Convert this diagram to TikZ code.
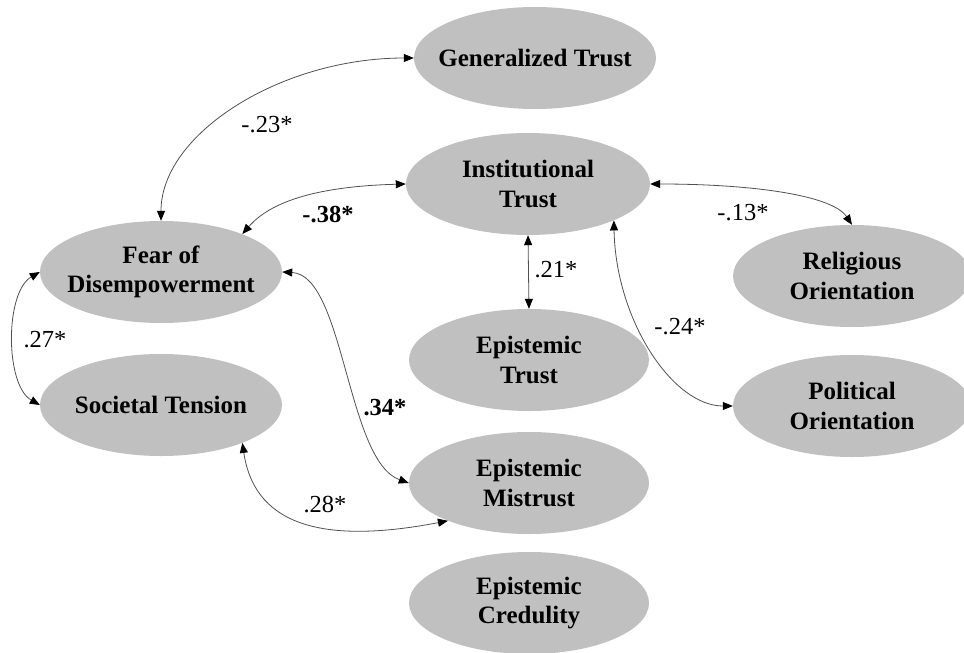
\documentclass[tikz,border=0pt]{standalone}
\usepackage{fontspec}
\setmainfont{Liberation Serif}
\usetikzlibrary{shapes.geometric,arrows.meta}
\definecolor{ovalgray}{RGB}{192,192,192}
\definecolor{linkgray}{RGB}{80,80,80}
% zero-width centred line, so the oval size is set by the style alone
\newcommand{\ovalline}[1]{\makebox[0pt][c]{#1}}
\tikzset{
  construct/.style={ellipse, fill=ovalgray, draw=none, inner sep=0pt,
    minimum width=242pt, minimum height=102pt, align=center,
    font=\fontsize{25}{29.5}\selectfont\bfseries},
  corr/.style={draw=linkgray, line width=0.8pt,
    >={Triangle[length=10pt,width=8pt,color=black]}, <->},
  coef/.style={font=\fontsize{24.5}{28}\selectfont, inner sep=0pt},
  coefb/.style={coef, font=\fontsize{24.5}{28}\selectfont\bfseries}
}
\begin{document}
\begin{tikzpicture}[x=1pt,y=-1pt]
\useasboundingbox (0,0) rectangle (964,653);
\clip (0,0) rectangle (964,653);

% latent constructs
\node[construct] (gt)   at (535,58)  {\ovalline{Generalized Trust}};
\node[construct, minimum width=244pt] (inst) at (528,184) {\ovalline{Institutional}\\\ovalline{Trust}};
\node[construct] (fear) at (161,272) {\ovalline{Fear of}\\\ovalline{Disempowerment}};
\node[construct] (soc)  at (161,405) {\ovalline{Societal Tension}};
\node[construct, minimum width=240pt] (ept)  at (529,360) {\ovalline{Epistemic}\\\ovalline{Trust}};
\node[construct, minimum width=240pt] (mis)  at (529,483) {\ovalline{Epistemic}\\\ovalline{Mistrust}};
\node[construct, minimum width=240pt] (cred) at (529,603) {\ovalline{Epistemic}\\\ovalline{Credulity}};
\node[construct, minimum width=238pt] (rel)  at (852,276) {\ovalline{Religious}\\\ovalline{Orientation}};
\node[construct, minimum width=238pt] (pol)  at (852,406) {\ovalline{Political}\\\ovalline{Orientation}};

% correlations
\draw[corr] (fear.north) .. controls +(0,-87) and +(-133,0) .. (gt.west);
\draw[corr] (fear.25) .. controls +(32,-37) and +(-75,2) .. (inst.west);
\draw[corr] (fear.west) .. controls +(-35,20) and +(-35,-20) .. (soc.west);
\draw[corr] (fear.east) .. controls +(62,3) and +(-62,-22) .. (mis.west);
\draw[corr] (soc.-25) .. controls +(13,88) and +(-115,22) .. (mis.205);
\draw[corr] (inst.south) -- (ept.north);
\draw[corr] (inst.east) .. controls +(100,0) and +(-20,-30) .. (rel.north);
\draw[corr] (inst.-23) .. controls +(2,100) and +(-60,0) .. (pol.west);

% coefficients
\node[coef]  (c1) at (267,125) {-.23*};
\node[coefb] (c2) at (328,215) {-.38*};
\node[coef]  (c3) at (45,340)  {.27*};
\node[coefb] (c4) at (385,408) {.34*};
\node[coef]  (c5) at (325,505) {.28*};
\node[coef]  (c6) at (556,270) {.21*};
\node[coef]  (c7) at (743,213) {-.13*};
\node[coef]  (c8) at (680,327) {-.24*};
\end{tikzpicture}
\end{document}
